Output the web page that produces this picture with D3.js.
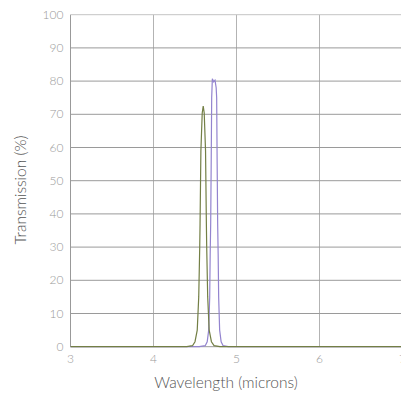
<!DOCTYPE html>
<html>
<head>
<meta charset="utf-8">
<script src="https://cdn.jsdelivr.net/npm/d3@7"></script>
<style>
  body { margin: 0; background: #fff; }
  text { font-family: "Lato", "Open Sans", sans-serif; }
</style>
</head>
<body>
<div id="chart-area"></div>
<script>
// tick labels
var xTicks = [3, 4, 5, 6, 7];
var yTicks = [0, 10, 20, 30, 40, 50, 60, 70, 80, 90, 100];

// filter at ~4.6 microns (green)
var greenWave = [3.0, 4.40, 4.47, 4.50, 4.527, 4.545, 4.557, 4.561, 4.571, 4.587, 4.599, 4.611, 4.627, 4.637, 4.641, 4.653, 4.671, 4.698, 4.73, 4.80, 7.0];
var greenTrans = [0, 0, 0.3, 1.5, 5, 15, 30, 37, 59, 70.4, 72.5, 70.4, 59, 37, 30, 15, 5, 1.5, 0.3, 0, 0];

// filter at ~4.73 microns (purple)
var purpleWave = [3.0, 4.55, 4.623, 4.647, 4.665, 4.677, 4.683, 4.689, 4.695, 4.701, 4.709, 4.725, 4.741, 4.755, 4.761, 4.767, 4.773, 4.779, 4.785, 4.797, 4.815, 4.839, 4.90, 7.0];
var purpleTrans = [0, 0, 0.3, 1.5, 5, 15, 28, 37, 55, 75, 80.7, 79.8, 80.3, 78, 75, 55, 37, 28, 15, 5, 1.5, 0.3, 0, 0];

var margin = { left: 70.5, right: -1.5, top: 14.7, bottom: 47.3 };
var width = 401 - margin.left - margin.right;
var height = 394 - margin.top - margin.bottom;

var svg = d3.select("#chart-area")
    .append("svg")
    .attr("width", 401)
    .attr("height", 394);

var g = svg.append("g")
    .attr("transform", "translate(" + margin.left + "," + margin.top + ")");

var x = d3.scaleLinear().domain([3, 7]).range([0, width]);
var y = d3.scaleLinear().domain([0, 100]).range([height, 0]);

// vertical grid
g.selectAll(".vgrid")
    .data(xTicks)
    .enter().append("line")
    .attr("class", "vgrid")
    .attr("x1", function (d) { return x(d); })
    .attr("x2", function (d) { return x(d); })
    .attr("y1", 0)
    .attr("y2", height)
    .attr("stroke", function (d) { return d === 3 ? "#999" : "#b3b3b3"; })
    .attr("stroke-width", 1);

// horizontal grid
g.selectAll(".hgrid")
    .data(yTicks)
    .enter().append("line")
    .attr("class", "hgrid")
    .attr("x1", 0)
    .attr("x2", width)
    .attr("y1", function (d) { return y(d); })
    .attr("y2", function (d) { return y(d); })
    .attr("stroke", function (d) { return d === 100 ? "#c4c4c4" : "#9a9a9a"; })
    .attr("stroke-width", 1);

// y tick labels
g.selectAll(".ylab")
    .data(yTicks)
    .enter().append("text")
    .attr("class", "ylab")
    .attr("x", -7)
    .attr("y", function (d) { return y(d); })
    .attr("dy", "0.35em")
    .attr("text-anchor", "end")
    .attr("font-size", "12px")
    .attr("font-weight", 300)
    .attr("fill", "#999")
    .text(function (d) { return d; });

// x tick labels
g.selectAll(".xlab")
    .data(xTicks)
    .enter().append("text")
    .attr("class", "xlab")
    .attr("x", function (d) { return x(d); })
    .attr("y", height + 16)
    .attr("text-anchor", "middle")
    .attr("font-size", "12px")
    .attr("font-weight", 300)
    .attr("fill", "#999")
    .text(function (d) { return d; });

var line = d3.line()
    .x(function (d) { return x(d[0]); })
    .y(function (d) { return y(d[1]); });

var greenData = greenWave.map(function (w, i) { return [w, greenTrans[i]]; });
var purpleData = purpleWave.map(function (w, i) { return [w, purpleTrans[i]]; });

g.append("path")
    .datum(purpleData)
    .attr("d", line)
    .attr("fill", "none")
    .attr("stroke", "#9384cf")
    .attr("stroke-width", 1.2);

g.append("path")
    .datum(greenData)
    .attr("d", line)
    .attr("fill", "none")
    .attr("stroke", "#737f45")
    .attr("stroke-width", 1.2);

// X Label
svg.append("text")
    .attr("x", 226)
    .attr("y", 388)
    .attr("font-size", "15.5px")
    .attr("font-weight", 300)
    .attr("text-anchor", "middle")
    .attr("fill", "#555")
    .text("Wavelength (microns)");

// Y Label
svg.append("text")
    .attr("transform", "translate(26,190) rotate(-90)")
    .attr("font-size", "15.5px")
    .attr("font-weight", 300)
    .attr("text-anchor", "middle")
    .attr("fill", "#555")
    .text("Transmission (%)");
</script>
</body>
</html>
